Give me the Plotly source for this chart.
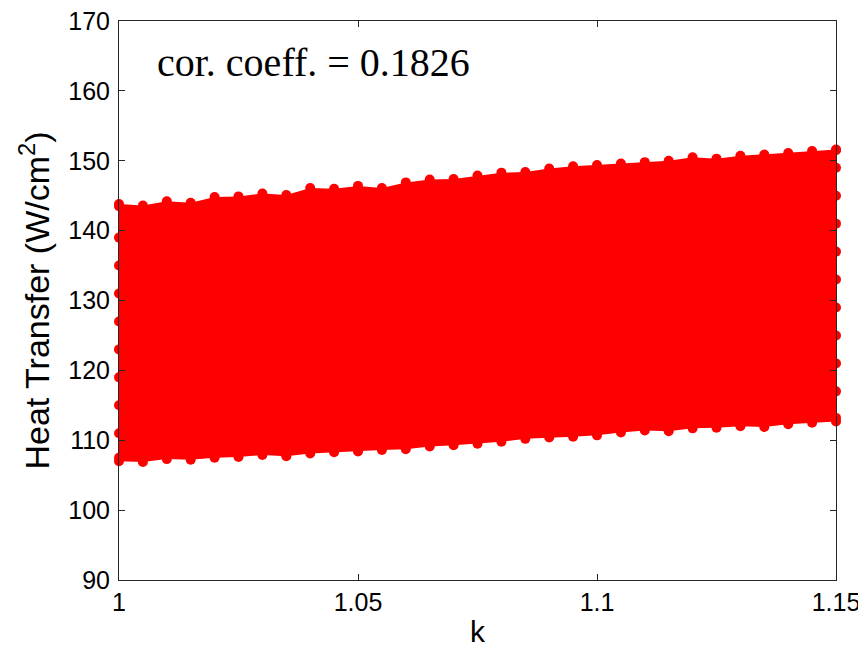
import plotly.graph_objects as go

k_edge = [1.000, 1.005, 1.010, 1.015, 1.020, 1.025, 1.030, 1.035, 1.040, 1.045,
          1.050, 1.055, 1.060, 1.065, 1.070, 1.075, 1.080, 1.085, 1.090, 1.095,
          1.100, 1.105, 1.110, 1.115, 1.120, 1.125, 1.130, 1.135, 1.140, 1.145, 1.150]
# Upper boundary of the scatter cloud (W/cm^2)
upper_edge = [143.8, 143.6, 144.2, 144.0, 144.8, 144.9, 145.3, 145.1, 146.1, 146.0,
              146.4, 146.1, 146.9, 147.3, 147.4, 147.9, 148.3, 148.4, 148.9, 149.2,
              149.4, 149.6, 149.8, 150.0, 150.5, 150.3, 150.7, 150.9, 151.1, 151.4, 151.6]
# Lower boundary of the scatter cloud (W/cm^2)
lower_edge = [107.0, 106.9, 107.3, 107.2, 107.5, 107.6, 107.9, 107.7, 108.1, 108.3,
              108.4, 108.6, 108.7, 109.1, 109.3, 109.5, 109.8, 110.2, 110.4, 110.5,
              110.7, 111.1, 111.4, 111.3, 111.7, 111.8, 112.0, 111.9, 112.3, 112.5, 112.7]
# Points stacked at the extreme k values (left and right columns)
left_col = [107.5, 111, 115, 119, 123, 127, 131, 135, 139, 143.5]
right_col = [113.2, 117, 121, 125, 129, 133, 137, 141, 145, 149, 151.5]

x_ticks = [1.0, 1.05, 1.1, 1.15]
x_ticklabels = ["1", "1.05", "1.1", "1.15"]
y_ticks = [90, 100, 110, 120, 130, 140, 150, 160, 170]

annotation_text = "cor. coeff. = 0.1826"

RED = "#ff0000"
mk = dict(color=RED, size=10, line=dict(width=0))

fig = go.Figure()
# filled body of the cloud (polygon built from the edge arrays)
fig.add_trace(go.Scatter(x=k_edge + k_edge[::-1], y=upper_edge + lower_edge[::-1],
                         mode="lines", line=dict(width=0, color=RED),
                         fill="toself", fillcolor=RED, showlegend=False, hoverinfo="skip"))
for xs, ys in [(k_edge, lower_edge), (k_edge, upper_edge),
               ([k_edge[0]] * len(left_col), left_col),
               ([k_edge[-1]] * len(right_col), right_col)]:
    fig.add_trace(go.Scatter(x=xs, y=ys, mode="markers", marker=mk,
                             cliponaxis=False, showlegend=False))

axis_common = dict(
    showgrid=False, zeroline=False, showline=True, linecolor="#262626", linewidth=1,
    mirror="ticks", ticks="inside", ticklen=6, tickcolor="#262626", automargin=False,
    ticklabeloverflow="allow",
    tickfont=dict(family="Liberation Sans, Arial, sans-serif", size=25, color="#000000"),
)

fig.update_layout(
    width=866, height=652,
    margin=dict(l=111, r=38, t=13, b=80),
    paper_bgcolor="white", plot_bgcolor="white",
    xaxis=dict(range=[1.0, 1.15], tickvals=x_ticks, ticktext=x_ticklabels,
               title=dict(text="k", standoff=5,
                          font=dict(family="Liberation Sans, Arial, sans-serif", size=30, color="#000")),
               **axis_common),
    yaxis=dict(range=[90, 170], tickvals=y_ticks, ticklabelstandoff=3,
               title=dict(text="Heat Transfer (W/cm<sup>2</sup>)", standoff=8,
                          font=dict(family="Liberation Sans, Arial, sans-serif", size=34, color="#000")),
               **axis_common),
    annotations=[dict(text=annotation_text, xref="paper", yref="paper",
                      x=0.05, y=0.925, xanchor="left", yanchor="middle", showarrow=False,
                      font=dict(family="Liberation Serif, Times New Roman, serif", size=40, color="#000"))],
)

fig.write_html("out.html")
